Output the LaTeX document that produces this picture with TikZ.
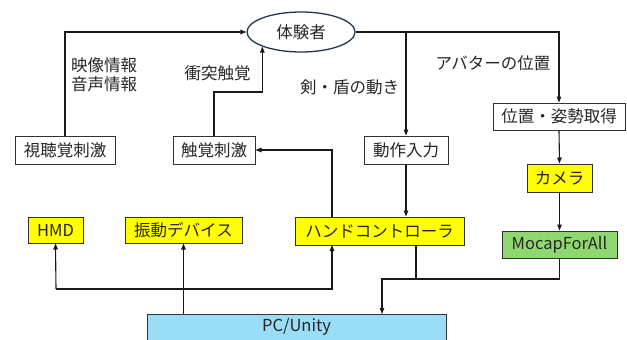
\documentclass[tikz,border=0pt]{standalone}
\usepackage{fontspec}
\setmainfont{Noto Sans CJK JP}
\usetikzlibrary{shapes.geometric,arrows.meta}
\definecolor{ybox}{RGB}{255,255,0}
\definecolor{gbox}{RGB}{143,216,112}
\definecolor{bbox}{RGB}{153,221,247}
\definecolor{edge}{RGB}{50,50,50}
\definecolor{ell}{RGB}{30,55,80}
\begin{document}
\begin{tikzpicture}[x=1pt,y=-1pt,
  font=\fontsize{16.5pt}{19pt}\selectfont,
  box/.style={draw=edge,line width=1pt,fill=white,inner sep=0pt,text=black!85},
  ybx/.style={box,fill=ybox},
  gbx/.style={box,fill=gbox},
  arr/.style={-{Triangle[length=6pt,width=4.5pt]},line width=1.1pt,draw=black!90},
  ln/.style={line width=1.1pt,draw=black!90},
  lbl/.style={inner sep=0pt,text=black!85}]
\useasboundingbox (0,0) rectangle (627,340);
\clip (0,0) rectangle (627,340);
% nodes
\node[ellipse,draw=ell,line width=1.3pt,fill=white,minimum width=108pt,minimum height=40pt,inner sep=0pt,text=black!85] (user) at (301,32) {体験者};
\node[box,minimum width=100pt,minimum height=28pt] (av) at (65,150) {視聴覚刺激};
\node[box,minimum width=82pt,minimum height=28pt] (tac) at (214,150) {触覚刺激};
\node[box,minimum width=84pt,minimum height=28pt] (act) at (406,150) {動作入力};
\node[box,minimum width=132pt,minimum height=27pt] (pos) at (559,116.5) {位置・姿勢取得};
\node[ybx,minimum width=65pt,minimum height=28pt] (cam) at (559.5,178) {カメラ};
\node[gbx,minimum width=115pt,minimum height=27pt] (mocap) at (559.5,244.5) {MocapForAll};
\node[ybx,minimum width=169pt,minimum height=28pt] (hc) at (379.5,231) {ハンドコントローラ};
\node[ybx,minimum width=55pt,minimum height=26pt] (hmd) at (55.5,230) {HMD};
\node[ybx,minimum width=117pt,minimum height=26pt] (vib) at (183.5,230) {振動デバイス};
\node[box,fill=bbox,anchor=north,minimum width=299pt,minimum height=34pt] (pc) at (296.5,314) {\raisebox{5pt}[0.8em][0.2em]{PC/Unity}};
% labels
\node[lbl,anchor=west,align=left] (l1) at (71,75) {映像情報\\音声情報};
\node[lbl] (l2) at (217.5,73) {衝突触覚};
\node[lbl] (l3) at (349.5,87) {剣・盾の動き};
\node[lbl] (l4) at (493,63) {アバターの位置};
% coordinates
\coordinate (k1) at (214,92);
\coordinate (hcT) at (332,217);
\coordinate (hcB) at (332,245);
\coordinate (busL) at (56,289);
\coordinate (busR) at (332,289);
\coordinate (hcD) at (416,245);
\coordinate (hcJ) at (416,279);
\coordinate (j) at (382,279);
\coordinate (pcJ) at (382,314);
\coordinate (br) at (406,32);
% connectors
\draw[arr] (av.north) |- (user.west);
\draw[arr] (tac.north) -- (k1) -| (user.south west);
\draw[arr] (user.east) -| (pos.north);
\draw[arr] (br) -- (act.north);
\draw[arr] (pos.south) -- (cam.north);
\draw[arr] (cam.south) -- (mocap.north);
\draw[arr] (act.south) -- (act.south |- hc.north);
\draw[arr] (hcT) |- (tac.east);
\draw[arr] (busL) -- (hmd.south);
\draw[arr] (busL) -- (busR) -- (hcB);
\draw[arr] (pc.north -| vib.south) -- (vib.south);
\draw[ln] (hcD) -- (hcJ);
\draw[arr] (mocap.south) |- (j) -- (pcJ);
\end{tikzpicture}
\end{document}
